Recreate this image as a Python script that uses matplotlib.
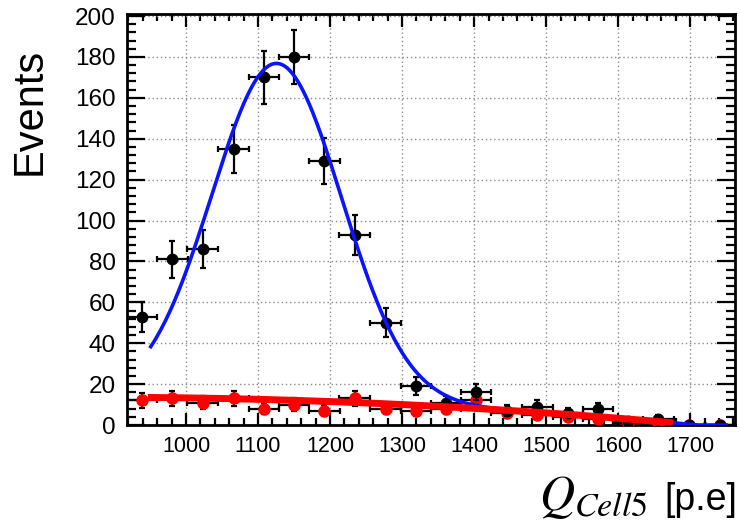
import numpy as np
import matplotlib
matplotlib.use("Agg")
import matplotlib.pyplot as plt
from matplotlib.ticker import MultipleLocator

plt.rcParams['font.family'] = ['Liberation Sans', 'DejaVu Sans']
plt.rcParams['mathtext.fontset'] = 'stix'

# bin centres [p.e] and bin width
bin_centers = [939, 981, 1023, 1066, 1108, 1150, 1192, 1234, 1277, 1319,
               1361, 1403, 1445, 1488, 1530, 1572, 1614, 1656, 1699, 1741]
bin_width = 42.2

# black points (all events) and red points (background)
black_counts = [53, 81, 86, 135, 170, 180, 129, 93, 50, 19,
                11, 16, 7, 9, 6, 8, 2, 3, 0, 0]
red_counts = [12, 13, 11, 13, 8, 10, 7, 13, 8, 7,
              8, 12, 6, 5, 4, 3, 1, 1, 0, 0]

# fit parameters
bkg_x0, bkg_p0, bkg_p1, bkg_p2 = 947.0, 13.5, -0.003125, -1.905e-5
bkg_range = (947, 1676)
gaus_amp, gaus_mean, gaus_sigma = 164.5, 1126.0, 90.0
sig_range = (951, 1750)


def bkg(x):
    u = x - bkg_x0
    return bkg_p0 + bkg_p1 * u + bkg_p2 * u ** 2


def total(x):
    return gaus_amp * np.exp(-0.5 * ((x - gaus_mean) / gaus_sigma) ** 2) + bkg(x)


fig = plt.figure(figsize=(7.4, 5.28), dpi=100)
ax = fig.add_axes([0.1716, 0.195, 0.8214, 0.7785])

xc = np.array(bin_centers, dtype=float)
yb = np.array(black_counts, dtype=float)
yr = np.array(red_counts, dtype=float)

ax.errorbar(xc, yr, xerr=bin_width / 2, yerr=np.sqrt(yr), fmt='o', color='red',
            ms=8, ecolor='black', elinewidth=1.6, capsize=2.5, capthick=1.6, zorder=3)
ax.errorbar(xc, yb, xerr=bin_width / 2, yerr=np.sqrt(yb), fmt='o', color='black',
            ms=7.5, ecolor='black', elinewidth=1.6, capsize=2.5, capthick=1.6, zorder=4)

xs = np.linspace(sig_range[0], sig_range[1], 400)
ax.plot(xs, np.maximum(total(xs), 0), color='#0a14ff', lw=2.6, zorder=5)
xr = np.linspace(bkg_range[0], bkg_range[1], 300)
ax.plot(xr, bkg(xr), color='#ff0000', lw=5, zorder=6, solid_capstyle='butt')

ax.set_xlim(918, 1762)
ax.set_ylim(0, 201)

ax.xaxis.set_major_locator(MultipleLocator(100))
ax.xaxis.set_minor_locator(MultipleLocator(20))
ax.yaxis.set_major_locator(MultipleLocator(20))
ax.yaxis.set_minor_locator(MultipleLocator(4))

ax.grid(True, which='major', color='#8c8c8c', linestyle=(0, (1, 2)), lw=1)
ax.set_axisbelow(True)

ax.tick_params(which='both', direction='in', top=True, right=True, width=1.6,
               colors='black')
ax.tick_params(axis='x', which='major', length=9, pad=8, labelsize=15.5)
ax.tick_params(axis='x', which='minor', length=5)
ax.tick_params(axis='y', which='major', length=13, pad=8, labelsize=17.5)
ax.tick_params(axis='y', which='minor', length=6.5)

for sp in ax.spines.values():
    sp.set_linewidth(2)

fig.text(0.04, 0.909, 'Events', rotation=90, fontsize=30, ha='center', va='top')
fig.text(0.996, 0.034, '[p.e]', fontsize=27, ha='right', va='baseline')
fig.text(0.876, 0.034, r'$Q_{\mathit{Cell5}}$', fontsize=35, ha='right', va='baseline')

fig.savefig('out.png', dpi=100)
